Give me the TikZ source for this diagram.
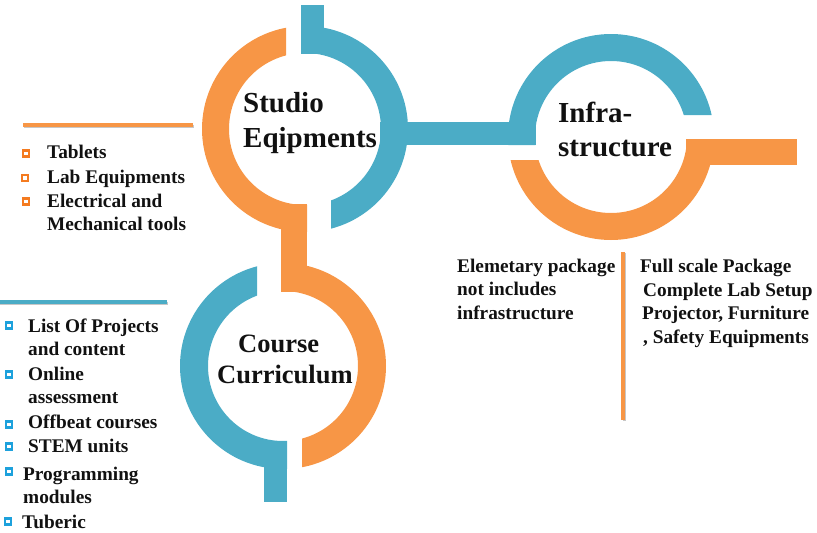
\documentclass[tikz,border=0pt]{standalone}
\usepackage{fontspec}
\setmainfont{Liberation Serif}
\definecolor{ringO}{HTML}{F79646}
\definecolor{ringB}{HTML}{4BACC6}
\definecolor{bulO}{HTML}{F47B20}
\definecolor{bulB}{HTML}{1DA1DC}
\definecolor{ink}{HTML}{111111}
\begin{document}
\begin{tikzpicture}[x=1pt,y=-1pt,
  title/.style={anchor=base west,inner sep=0pt,text=ink,font=\fontsize{29}{34}\selectfont\bfseries},
  ctitle/.style={anchor=base west,inner sep=0pt,text=ink,font=\fontsize{26.5}{31}\selectfont\bfseries},
  item/.style={anchor=base west,inner sep=0pt,text=ink,font=\fontsize{19.3}{23.5}\selectfont\bfseries},
  bulletO/.style={rectangle,inner sep=0pt,minimum size=5.8pt,draw=bulO,line width=2.7pt,fill=white},
  bulletB/.style={rectangle,inner sep=0pt,minimum size=5.8pt,draw=bulB,line width=2.7pt,fill=white},
  shadowline/.style={draw=black!22,line width=3.5pt},
]
\useasboundingbox (0,0) rectangle (817,533);
\coordinate (S) at (305,129);
\coordinate (I) at (611,137);
\coordinate (C) at (283,366);

% ---------- Studio ring ----------
\begin{scope}
  \clip (286,-20) -- (286,129) -- (307,129) -- (307,300) -- (150,300) -- (150,-20) -- cycle;
  \fill[ringO,even odd rule] (S) circle (103pt) (S) circle (76pt);
\end{scope}
\begin{scope}
  \clip (301,-20) -- (301,129) -- (331,129) -- (331,300) -- (460,300) -- (460,-20) -- cycle;
  \fill[ringB,even odd rule] (S) circle (103pt) (S) circle (76pt);
\end{scope}
\fill[ringB] (301,5) rectangle (324,54);
\fill[ringO] (281,204) rectangle (307,292);
\fill[ringB] (380,122) rectangle (536,145);

% ---------- Infrastructure ring ----------
\begin{scope}
  \clip (480,-20) -- (480,145) -- (611,145) -- (611,115) -- (750,115) -- (750,-20) -- cycle;
  \fill[ringB,even odd rule] (I) circle (103pt) (I) circle (76pt);
\end{scope}
\begin{scope}
  \clip (480,160) -- (611,160) -- (611,139) -- (750,139) -- (750,300) -- (480,300) -- cycle;
  \fill[ringO,even odd rule] (I) circle (103pt) (I) circle (76pt);
\end{scope}
\fill[ringO] (686,139) rectangle (797,165);

% ---------- Course ring ----------
\begin{scope}
  \clip (150,200) -- (257,200) -- (257,366) -- (287,366) -- (287,520) -- (150,520) -- cycle;
  \fill[ringB,even odd rule] (C) circle (103pt) (C) circle (75pt);
\end{scope}
\begin{scope}
  \clip (281,200) -- (281,366) -- (302,366) -- (302,520) -- (420,520) -- (420,200) -- cycle;
  \fill[ringO,even odd rule] (C) circle (103pt) (C) circle (75pt);
\end{scope}
\fill[ringB] (264,441) rectangle (287,502);

% ---------- titles ----------
\node[title] (st1) at (243,112) {Studio};
\node[title] (st2) at (243,147) {Eqipments};
\node[title] (in1) at (558,122) {Infra-};
\node[title] (in2) at (558,156) {structure};
\node[ctitle] (cc1) at (238,352) {Course};
\node[ctitle] (cc2) at (217,383) {Curriculum};

% ---------- rules ----------
\draw[shadowline] (24,126.5) -- (194,126.5);
\draw[ringO,line width=3.5pt] (23,125) -- (193,125);
\draw[shadowline] (0,303.5) -- (168,303.5);
\draw[ringB,line width=3.5pt] (0,302) -- (167,302);
\draw[shadowline] (624.5,253) -- (624.5,421);
\draw[ringO,line width=3.5pt] (623,252) -- (623,420);

% ---------- studio list ----------
\node[bulletO] (bo1) at (26,153.5) {};
\node[bulletO] (bo2) at (25,178) {};
\node[bulletO] (bo3) at (26,201.5) {};
\node[item] (t1) at (47,158) {Tablets};
\node[item] (t2) at (47,183) {Lab Equipments};
\node[item] (t3) at (47,207) {Electrical and};
\node[item] (t4) at (47,230) {Mechanical tools};

% ---------- course list ----------
\node[bulletB] (bb1) at (9,325.5) {};
\node[bulletB] (bb2) at (9,374.5) {};
\node[bulletB] (bb3) at (9,424.5) {};
\node[bulletB] (bb4) at (9,446.5) {};
\node[bulletB] (bb5) at (9,471.5) {};
\node[bulletB] (bb6) at (8,521.5) {};
\node[item] (c1) at (28,332) {List Of Projects};
\node[item] (c2) at (28,355) {and content};
\node[item] (c3) at (28,380) {Online};
\node[item] (c4) at (28,403) {assessment};
\node[item] (c5) at (28,428) {Offbeat courses};
\node[item] (c6) at (28,452) {STEM units};
\node[item] (c7) at (23,480) {Programming};
\node[item] (c8) at (23,503) {modules};
\node[item] (c9) at (22,528) {Tuberic};

% ---------- infrastructure texts ----------
\node[item] (e1) at (457,272) {Elemetary package};
\node[item] (e2) at (457,295) {not includes};
\node[item] (e3) at (457,319) {infrastructure};
\node[item] (f1) at (640,272) {Full scale Package};
\node[item] (f2) at (643,296) {Complete Lab Setup};
\node[item] (f3) at (642,319) {Projector, Furniture};
\node[item] (f4) at (643,343) {, Safety Equipments};
\end{tikzpicture}
\end{document}
